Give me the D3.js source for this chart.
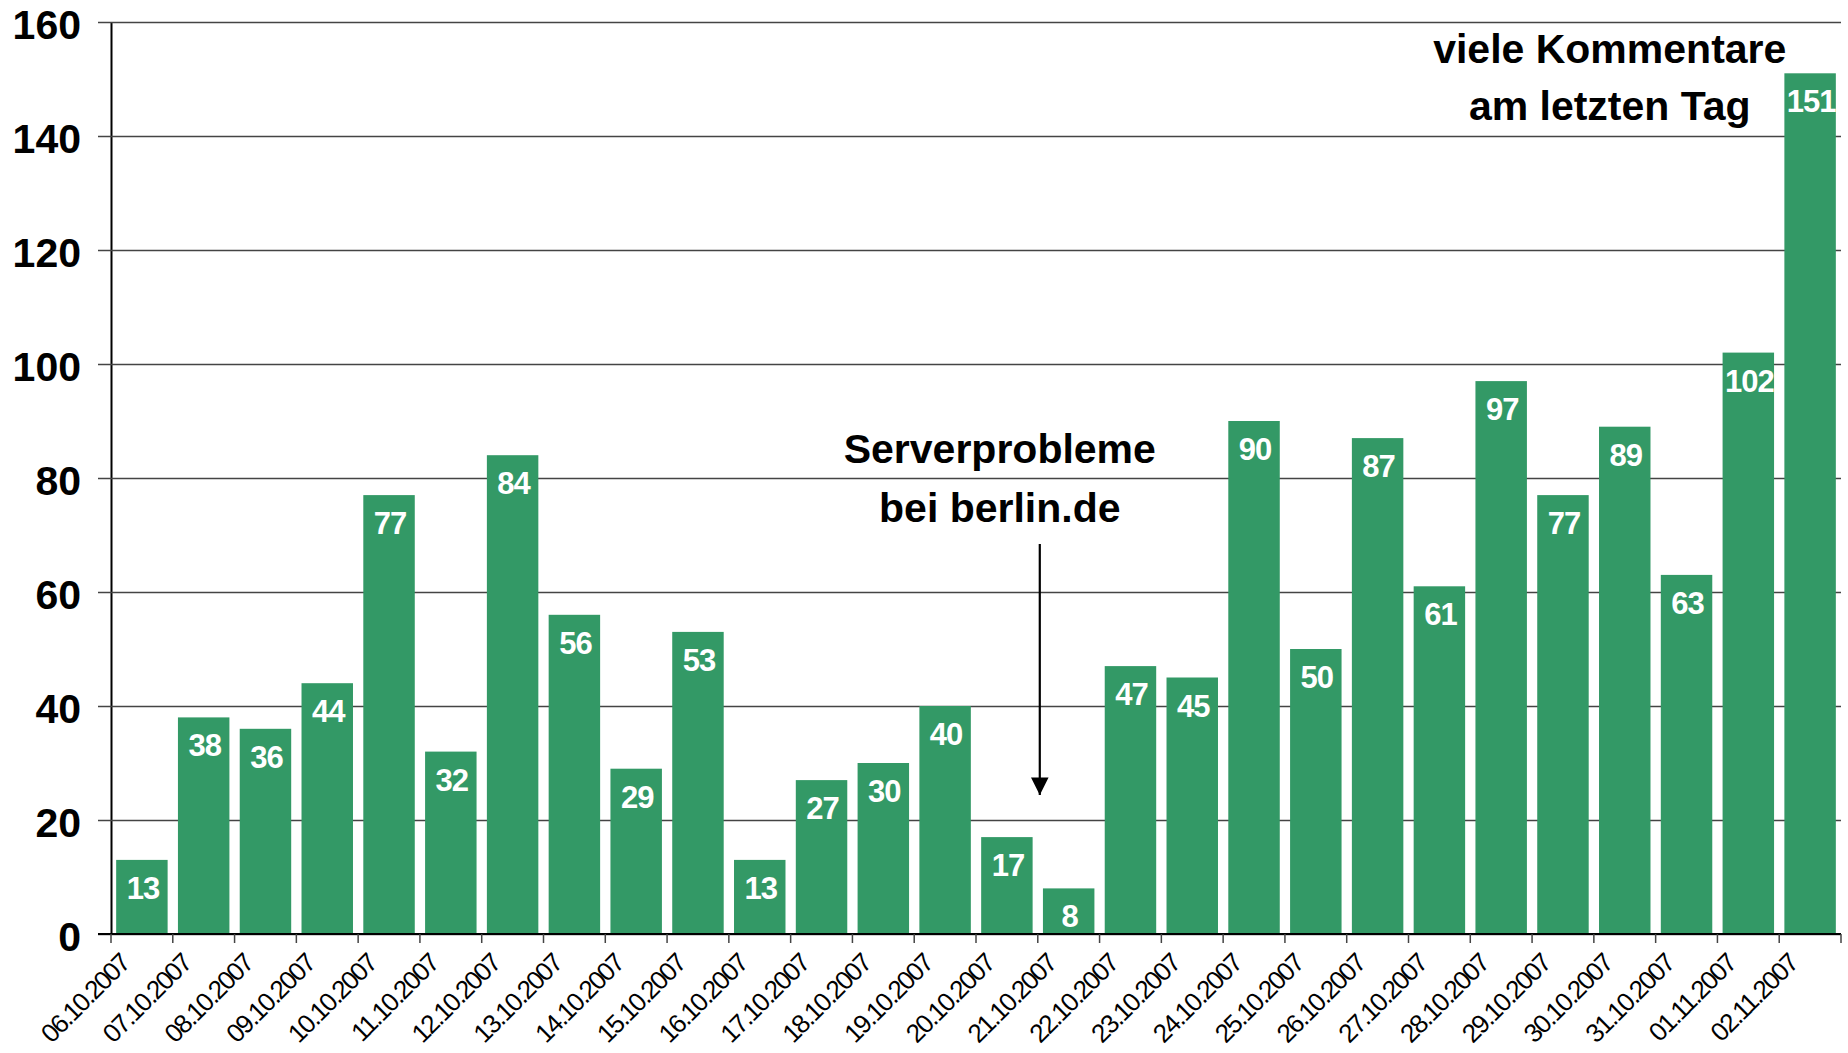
<!DOCTYPE html>
<html lang="de">
<head>
    <meta charset="UTF-8">
    <title>Kommentare pro Tag</title>
    <script src="https://d3js.org/d3.v7.min.js"></script>
    <style>
        body { margin: 0; background: #fff; }
        text { font-family: "Liberation Sans", Arial, sans-serif; }
    </style>
</head>
<body>
<div id="main"></div>
<script>
    // Datum der Kommentare
    const dates = ["06.10.2007", "07.10.2007", "08.10.2007", "09.10.2007", "10.10.2007", "11.10.2007",
        "12.10.2007", "13.10.2007", "14.10.2007", "15.10.2007", "16.10.2007", "17.10.2007",
        "18.10.2007", "19.10.2007", "20.10.2007", "21.10.2007", "22.10.2007", "23.10.2007",
        "24.10.2007", "25.10.2007", "26.10.2007", "27.10.2007", "28.10.2007", "29.10.2007",
        "30.10.2007", "31.10.2007", "01.11.2007", "02.11.2007"]
    // Anzahl Kommentare pro Tag
    const comments = [13, 38, 36, 44, 77, 32, 84, 56, 29, 53, 13, 27, 30, 40, 17, 8, 47, 45,
        90, 50, 87, 61, 97, 77, 89, 63, 102, 151]
    const yTicks = [0, 20, 40, 60, 80, 100, 120, 140, 160]

    // Anmerkungen
    const noteServer = ["Serverprobleme", "bei berlin.de"]
    const noteEnd = ["viele Kommentare", "am letzten Tag"]

    let margin = {top: 22, right: 7, bottom: 119, left: 111},
        width = 1848 - margin.left - margin.right,
        height = 1053 - margin.top - margin.bottom

    let svg = d3.select("#main")
        .append("svg")
        .attr("width", 1848)
        .attr("height", 1053)

    let chart = svg.append("g")
        .attr("transform", `translate(${margin.left},${margin.top})`)

    let XScale = d3.scaleBand()
        .domain(dates)
        .range([0, width])
        .paddingInner(0.167)
        .paddingOuter(0.0835)

    let YScale = d3.scaleLinear()
        .domain([0, 160])
        .range([height, 0])

    // Gitterlinien + y-Achse
    let y_axis = d3.axisLeft(YScale)
        .tickValues(yTicks)
        .tickSize(-width)
        .tickSizeOuter(0)
        .tickPadding(30)

    let gy = chart.append("g").call(y_axis)
    gy.select(".domain").attr("stroke", "#000").attr("stroke-width", 2)
    gy.selectAll(".tick line")
        .attr("x1", -13)
        .attr("stroke", "#444")
        .attr("stroke-width", 1.5)
    gy.selectAll(".tick text")
        .attr("dy", null)
        .attr("y", 16)
        .attr("fill", "#000")
        .style("font-size", "41px")
        .style("font-weight", "bold")

    // Balken
    chart.append("g").selectAll("rect")
        .data(comments)
        .enter()
        .append("rect")
        .attr("x", (d, i) => XScale(dates[i]))
        .attr("y", d => YScale(d))
        .attr("width", XScale.bandwidth())
        .attr("height", d => height - YScale(d))
        .style("fill", "#339966")

    // Werte in den Balken
    chart.append("g").selectAll("text")
        .data(comments)
        .enter()
        .append("text")
        .attr("x", (d, i) => XScale(dates[i]) + XScale.bandwidth() / 2 + 1)
        .attr("y", d => YScale(d) + 39)
        .attr("text-anchor", "middle")
        .attr("fill", "#fff")
        .style("font-size", "31px")
        .style("font-weight", "bold")
        .style("letter-spacing", "-1px")
        .text(d => d)

    // x-Achse mit Strichen an den Kategoriegrenzen
    let gx = chart.append("g").attr("transform", `translate(0,${height})`)
    gx.append("line")
        .attr("x1", -13).attr("x2", width)
        .attr("stroke", "#000").attr("stroke-width", 2)
    gx.selectAll("line.tk")
        .data(dates.concat(["end"]))
        .enter()
        .append("line")
        .attr("class", "tk")
        .attr("x1", (d, i) => i * XScale.step())
        .attr("x2", (d, i) => i * XScale.step())
        .attr("y1", 0).attr("y2", 9)
        .attr("stroke", "#444")
        .attr("stroke-width", 1.5)
    gx.selectAll("text")
        .data(dates)
        .enter()
        .append("text")
        .attr("transform", d => `translate(${XScale(d) - XScale.step() * 0.0835 + 20},31) rotate(-45)`)
        .attr("text-anchor", "end")
        .attr("fill", "#000")
        .style("font-size", "26px")
        .style("letter-spacing", "-1.8px")
        .text(d => d)

    // Anmerkung Serverprobleme
    let serverX = XScale("21.10.2007") - XScale.step() * 0.0835
    chart.append("g").selectAll("text")
        .data(noteServer)
        .enter()
        .append("text")
        .attr("x", serverX - 38)
        .attr("y", (d, i) => YScale(80) - 15 + i * 59)
        .attr("text-anchor", "middle")
        .attr("fill", "#000")
        .style("font-size", "41px")
        .style("font-weight", "bold")
        .text(d => d)

    svg.append("defs").append("marker")
        .attr("id", "arrow")
        .attr("viewBox", "0 0 10 10")
        .attr("refX", 10).attr("refY", 5)
        .attr("markerWidth", 8).attr("markerHeight", 8)
        .attr("markerUnits", "strokeWidth")
        .attr("orient", "auto")
        .append("path")
        .attr("d", "M0,0 L10,5 L0,10 Z")
        .attr("fill", "#000")

    chart.append("line")
        .attr("x1", serverX + 2).attr("x2", serverX + 2)
        .attr("y1", 522).attr("y2", 773)
        .attr("stroke", "#000")
        .attr("stroke-width", 2.2)
        .attr("marker-end", "url(#arrow)")

    // Anmerkung letzter Tag
    chart.append("g").selectAll("text")
        .data(noteEnd)
        .enter()
        .append("text")
        .attr("x", XScale("30.10.2007") + XScale.bandwidth() / 2 - 15)
        .attr("y", (d, i) => 41 + i * 57)
        .attr("text-anchor", "middle")
        .attr("fill", "#000")
        .style("font-size", "41px")
        .style("font-weight", "bold")
        .text(d => d)
</script>
</body>
</html>
